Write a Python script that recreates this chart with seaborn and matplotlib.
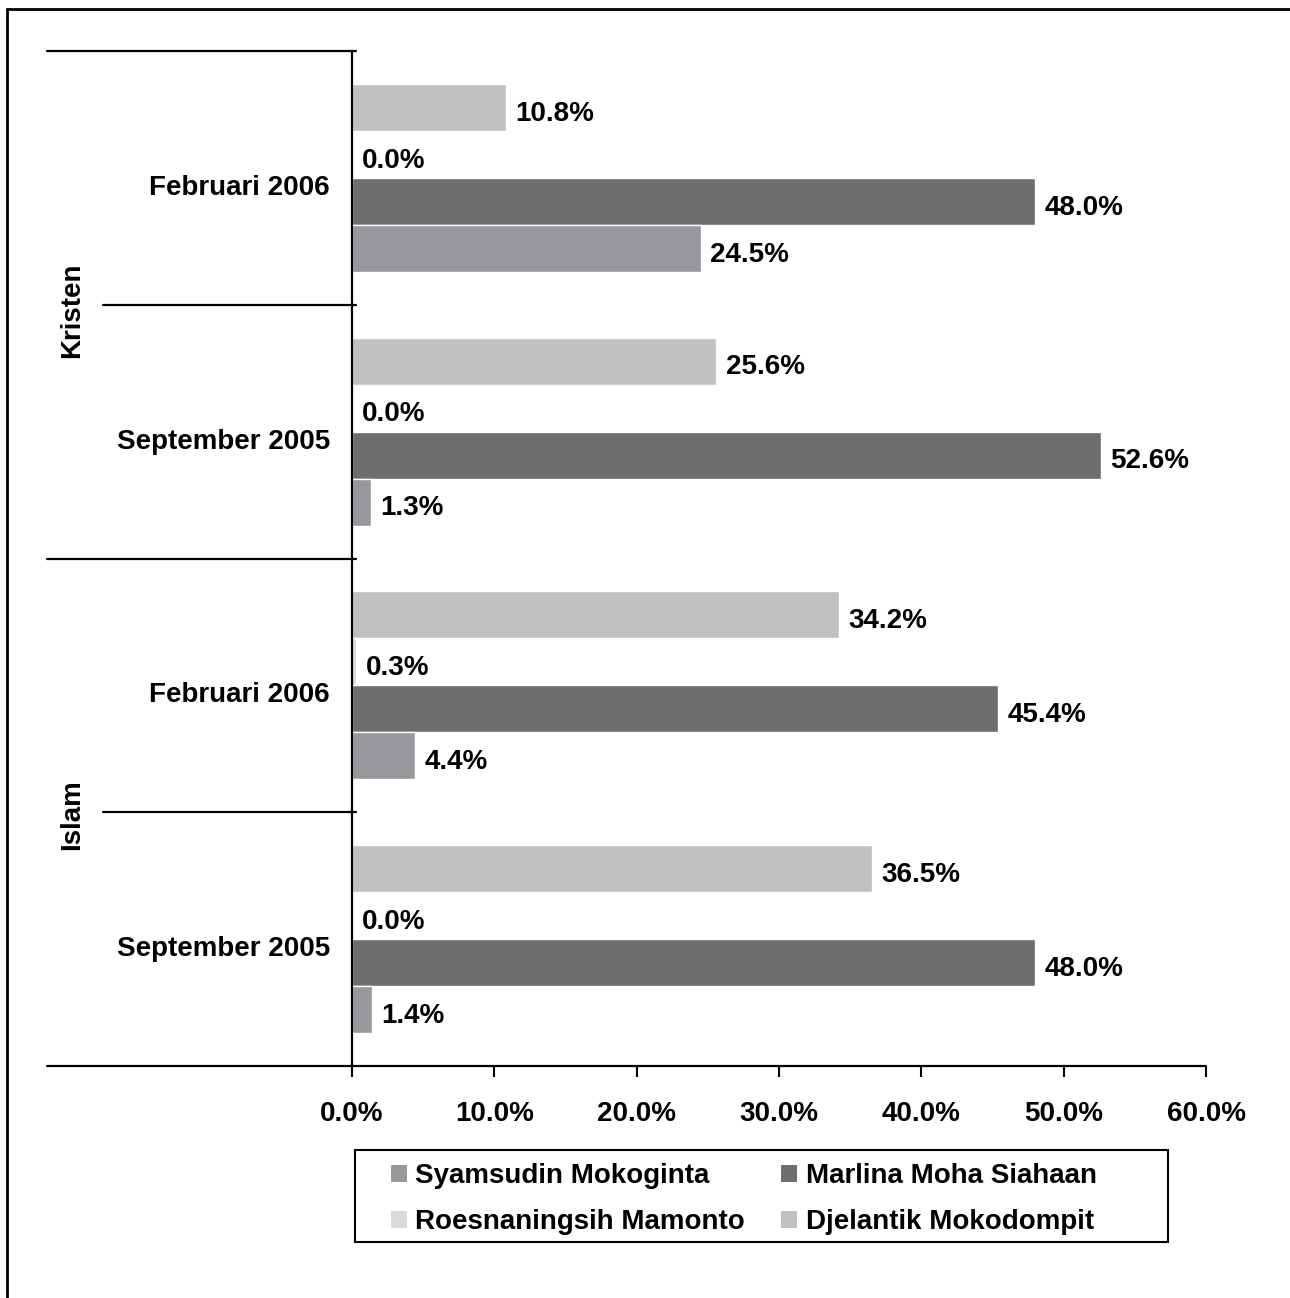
import pandas as pd
import matplotlib.pyplot as plt
import seaborn as sns
from matplotlib.lines import Line2D
from matplotlib.patches import Patch, Rectangle
from matplotlib.transforms import blended_transform_factory, ScaledTranslation

# data, top to bottom
agama = ["Kristen", "Kristen", "Islam", "Islam"]
periode = ["Februari 2006", "September 2005", "Februari 2006", "September 2005"]

kandidat = ["Djelantik Mokodompit", "Roesnaningsih Mamonto",
            "Marlina Moha Siahaan", "Syamsudin Mokoginta"]
djelantik = [10.8, 25.6, 34.2, 36.5]
roesnaningsih = [0.0, 0.0, 0.3, 0.0]
marlina = [48.0, 52.6, 45.4, 48.0]
syamsudin = [24.5, 1.3, 4.4, 1.4]

warna = {
    "Syamsudin Mokoginta": "#98989c",
    "Marlina Moha Siahaan": "#6e6e70",
    "Roesnaningsih Mamonto": "#d9d9d9",
    "Djelantik Mokodompit": "#c0c0c0",
}

kunci = [f"{a}|{p}" for a, p in zip(agama, periode)]
rows = []
for nama, nilai in zip(kandidat, [djelantik, roesnaningsih, marlina, syamsudin]):
    for k, v in zip(kunci, nilai):
        rows.append({"grup": k, "kandidat": nama, "persen": v})
df = pd.DataFrame(rows)

sns.set_theme(style="white", rc={"text.color": "black", "axes.labelcolor": "black",
                                 "xtick.color": "black", "ytick.color": "black"})
plt.rcParams["font.family"] = ["Liberation Sans", "DejaVu Sans"]
plt.rcParams["font.weight"] = "bold"
fs = 20

fig = plt.figure(figsize=(12.9, 12.98), dpi=100)
ax = fig.add_axes([352 / 1290, 1 - 1066 / 1298, 854 / 1290, 1015 / 1298])

sns.barplot(data=df, y="grup", x="persen", hue="kandidat", hue_order=kandidat,
            order=kunci, palette=warna, width=0.74, orient="h",
            saturation=1, errorbar=None, ax=ax, legend=False)

for c in ax.containers:
    anns = ax.bar_label(c, fmt="%.1f%%", padding=7, fontsize=fs, fontweight="bold")
    for a in anns:
        a.xyann = (7, -4.5)

ax.set_xlim(0, 60)
ax.set_ylim(3.5, -0.5)
ax.set_xticks(range(0, 61, 10))
ax.set_xticklabels([f"{v:.1f}%" for v in range(0, 61, 10)], fontsize=fs, fontweight="bold")
ax.set_yticks(range(4))
ax.set_yticklabels(periode, fontsize=fs, fontweight="bold")
ax.tick_params(axis="y", length=0, pad=16)
ax.tick_params(axis="x", direction="out", length=8, width=1.5, pad=17, bottom=True, color="black")
geser = ScaledTranslation(0, -0.07, fig.dpi_scale_trans)
for lbl in ax.get_yticklabels():
    lbl.set_transform(lbl.get_transform() + geser)
ax.set_xlabel("")
ax.set_ylabel("")
for s in ["top", "right"]:
    ax.spines[s].set_visible(False)
ax.spines["left"].set_color("black")
ax.spines["left"].set_linewidth(1.6)
ax.spines["bottom"].set_visible(False)

# multi-level category lines (Excel style)
tr = blended_transform_factory(ax.transAxes, ax.transData)
for y, x0 in [(-0.5, -0.357), (0.5, -0.292), (1.5, -0.357), (2.5, -0.292), (3.5, -0.357)]:
    ax.plot([x0, 1.0 if y == 3.5 else 0.005], [y, y], color="black", lw=1.6,
            transform=tr, clip_on=False)

fig.text(72 / 1290, 1 - 310 / 1298, "Kristen", rotation=90, ha="center", va="center",
         fontsize=fs, fontweight="bold")
fig.text(72 / 1290, 1 - 815 / 1298, "Islam", rotation=90, ha="center", va="center",
         fontsize=fs, fontweight="bold")

# legend
urutan = ["Syamsudin Mokoginta", "Roesnaningsih Mamonto",
          "Marlina Moha Siahaan", "Djelantik Mokodompit"]
handles = [Patch(facecolor=warna[n], edgecolor="none") for n in urutan]
leg = fig.legend(handles, urutan, ncol=2, loc="upper left",
                 bbox_to_anchor=(391 / 1290, 1 - 1163 / 1298),
                 fontsize=fs, frameon=False, handlelength=0.58,
                 handleheight=0.58, handletextpad=0.3, columnspacing=1.3,
                 labelspacing=0.72, borderpad=0, borderaxespad=0)
for t in leg.get_texts():
    t.set_fontweight("bold")
fig.add_artist(Rectangle((355 / 1290, 1 - 1242 / 1298), 813 / 1290, 92 / 1298,
                         transform=fig.transFigure, fill=False,
                         edgecolor="black", lw=1.5))

# outer chart frame (only top and left visible)
fig.add_artist(Line2D([7 / 1290, 1.0], [1 - 9 / 1298] * 2, color="black", lw=2))
fig.add_artist(Line2D([7 / 1290] * 2, [0.0, 1 - 9 / 1298], color="black", lw=2))

fig.savefig("out.png", dpi=100)
